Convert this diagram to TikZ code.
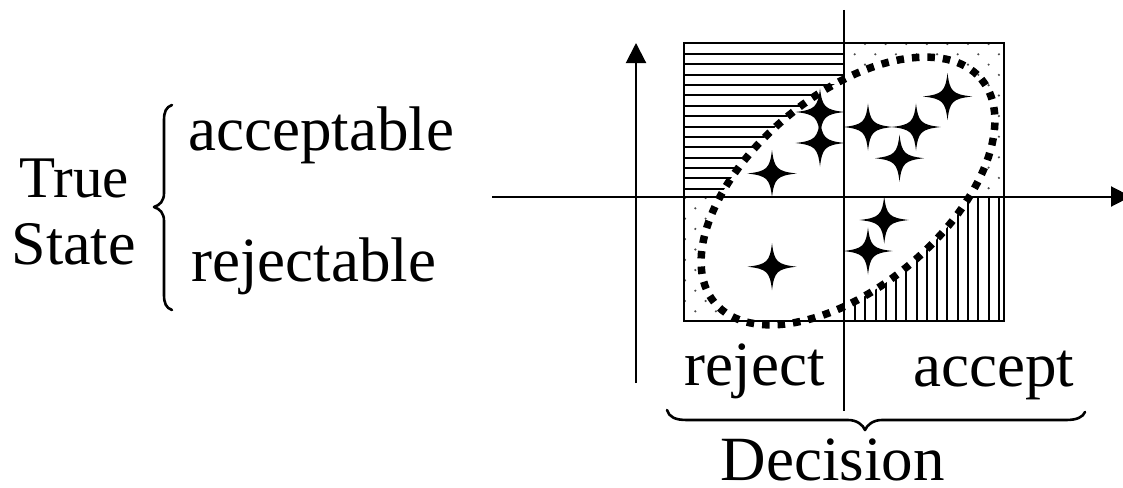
\documentclass[tikz,border=0pt]{standalone}
\usepackage{fontspec}
\setmainfont{Liberation Serif}
\usetikzlibrary{arrows.meta}

% region of the frame that lies outside the dotted ellipse
% (used inside a scope that sets the even odd rule)
\newcommand\outsideellipse{%
  \clip (848,191) ellipse [x radius=174, y radius=96]
    (200,-500) rectangle (1500,900);}

\begin{document}
\begin{tikzpicture}[x=1pt,y=-1pt,
  axisline/.style={line width=2pt,-{Triangle[length=20pt,width=20pt]}},
  sqframe/.style={line width=2pt},
  divider/.style={line width=1.8pt},
  hatch/.style={line width=2pt},
  dotmark/.style={fill=black!70},
  boundary/.style={line width=7.5pt, dash pattern=on 7.5pt off 8pt, line cap=butt},
  bracestroke/.style={line width=2.6pt, line cap=round, line join=round},
  txt/.style={inner sep=0pt, anchor=base west, font=\fontsize{63}{70}\selectfont},
  outside/.style={rotate around={40:(848,191)}, even odd rule},
  star4/.pic={\fill (24.5,0) .. controls (5,2.3) and (2.3,5) .. (0,23.5)
      .. controls (-2.3,5) and (-5,2.3) .. (-24.5,0)
      .. controls (-5,-2.3) and (-2.3,-5) .. (0,-23.5)
      .. controls (2.3,-5) and (5,-2.3) .. cycle;}
]
\clip (0,0) rectangle (1123,487);

% horizontal hatching, upper left quadrant
\begin{scope}
  \clip (684,43) rectangle (844,196.5);
  \begin{scope}[outside]
    \outsideellipse
    \begin{scope}[reset cm, nonzero rule]
      \foreach \k in {0,...,13}
        \draw[hatch] (684,{54+10.36*\k}) -- (844,{54+10.36*\k});
    \end{scope}
  \end{scope}
\end{scope}

% vertical hatching, lower right quadrant
\begin{scope}
  \clip (844,196.5) rectangle (1004,321);
  \begin{scope}[outside]
    \outsideellipse
    \begin{scope}[reset cm, nonzero rule]
      \foreach \k in {0,...,14}
        \draw[hatch] ({855+10.27*\k},196.5) -- ({855+10.27*\k},321);
    \end{scope}
  \end{scope}
\end{scope}

% dotted fill, upper right quadrant
\begin{scope}
  \clip (844,43) rectangle (1004,196.5);
  \begin{scope}[outside]
    \outsideellipse
    \begin{scope}[reset cm, nonzero rule]
      \foreach \k in {0,...,15}
        \foreach \m in {0,...,8}
          \fill[dotmark] ({865-10.3*mod(\k,2)+20.6*\m},{44+10.3*\k}) circle (1.2);
    \end{scope}
  \end{scope}
\end{scope}

% dotted fill, lower left quadrant
\begin{scope}
  \clip (684,196.5) rectangle (844,321);
  \begin{scope}[outside]
    \outsideellipse
    \begin{scope}[reset cm, nonzero rule]
      \foreach \k in {0,...,12}
        \foreach \m in {0,...,8}
          \fill[dotmark] ({685+10.3*mod(\k,2)+20.6*\m},{198+10.3*\k}) circle (1.2);
    \end{scope}
  \end{scope}
\end{scope}

% frame, axes and divider
\draw[sqframe] (684,43) rectangle (1004,321);
\draw[axisline] (636,383) -- (636,43);
\draw[axisline] (492,196.5) -- (1131,196.5);
\draw[divider] (844,10) -- (844,410.5);

% dotted ellipse
\draw[boundary, rotate around={40:(848,191)}] (848,191) ellipse [x radius=174, y radius=96];

% sample points
\foreach \p in {(772,173.5),(820,112),(820,143),(868,127),(916,127),
                (947.5,96.5),(899.5,158.2),(884.2,220),(868,251),(772,266.7)}
  \pic at \p {star4};

% left brace
\draw[bracestroke] (172,105) .. controls (166,107) and (164,112) .. (164,120)
  -- (164,193) .. controls (164,201) and (160,205) .. (154,207)
  .. controls (160,209) and (164,213) .. (164,221)
  -- (164,295) .. controls (164,303) and (166,308) .. (172,310);

% bottom brace
\draw[bracestroke] (667,410) .. controls (669,417) and (675,420) .. (687,420)
  -- (848,420) .. controls (857,420) and (863,425) .. (865,430)
  .. controls (867,425) and (873,420) .. (882,420)
  -- (1066,420) .. controls (1077,420) and (1083,417) .. (1085,412);

% labels
\node[txt, font=\fontsize{59}{64}\selectfont] (ttrue) at (19.5,197.5) {True};
\node[txt, font=\fontsize{62}{68}\selectfont] (tstate) at (11.5,264) {State};
\node[txt] (tacc) at (188,150) {acceptable};
\node[txt] (trej) at (191,281.7) {rejectable};
\node[txt] (dreject) at (684.5,385.5) {reject};
\node[txt] (daccept) at (913,386.5) {accept};
\node[txt] (ddecision) at (720.7,480.5) {Decision};
\end{tikzpicture}
\end{document}
